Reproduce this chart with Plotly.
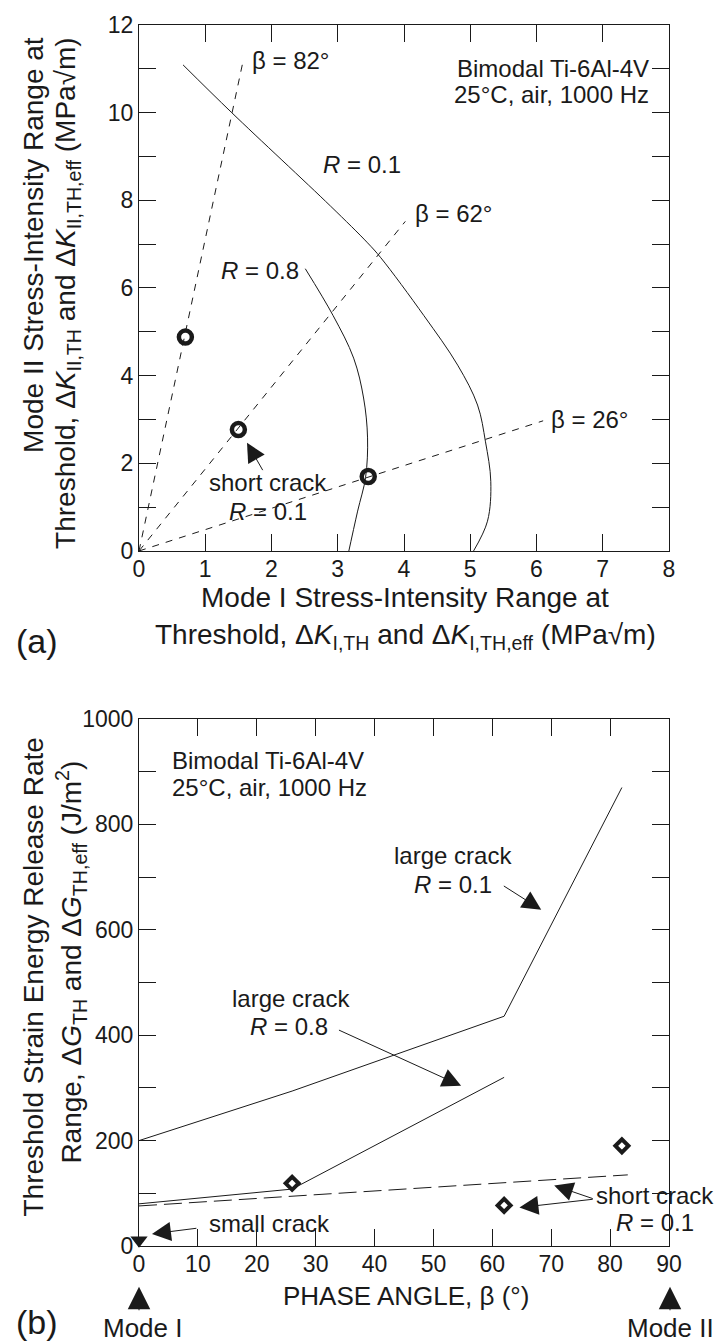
import plotly.graph_objects as go

# ---------------- data: panel (a) ----------------
KI_R01 = [0.665, 1.40, 2.89, 3.45, 3.65, 4.30, 4.81, 5.11, 5.23, 5.31, 5.26, 5.05]
KII_R01 = [11.09, 10.0, 7.87, 7.03, 6.69, 5.37, 4.24, 3.33, 2.49, 1.59, 0.68, 0.0]
KI_R08 = [2.51, 2.93, 3.24, 3.39, 3.45, 3.42, 3.30, 3.15]
KII_R08 = [6.44, 5.37, 4.40, 3.49, 2.58, 1.68, 0.91, -0.12]
BETA_LINES = [82, 62, 26]
BETA_END_KI = [1.56, 4.02, 6.10]
BETA_END_KII = [11.10, 7.52, 2.97]
SHORT_KI = [0.70, 1.50, 3.46]
SHORT_KII = [4.88, 2.77, 1.70]

# ---------------- data: panel (b) ----------------
BETA_LARGE_R01 = [0, 26, 62, 82]
G_LARGE_R01 = [200, 294, 436, 870]
BETA_LARGE_R08 = [0, 26, 62]
G_LARGE_R08 = [80, 108, 320]
BETA_SHORT_LINE = [0, 83]
G_SHORT_LINE = [76, 135]
BETA_SHORT_PTS = [26, 62, 82]
G_SHORT_PTS = [119, 77, 190]
BETA_SMALL = [0]
G_SMALL = [11]

# ---------------- layout geometry ----------------
W, H = 719, 1343
ML, MR, MT, MB = 139, 50, 18, 97
PW = W - ML - MR
PH = H - MT - MB


def px(xp):
    return (xp - ML) / PW


def py(yp):
    return (H - MB - yp) / PH


FONT = "Liberation Sans, Arial, sans-serif"
INK = "#1a1a1a"

fig = go.Figure()

# panel (a)
fig.add_trace(go.Scatter(x=KI_R01, y=KII_R01, mode="lines",
                         line=dict(color=INK, width=1, shape="spline", smoothing=1.0),
                         xaxis="x", yaxis="y", hoverinfo="skip"))
fig.add_trace(go.Scatter(x=KI_R08, y=KII_R08, mode="lines",
                         line=dict(color=INK, width=1, shape="spline", smoothing=1.0),
                         xaxis="x", yaxis="y", hoverinfo="skip"))
for ki, kii in zip(BETA_END_KI, BETA_END_KII):
    fig.add_trace(go.Scatter(x=[0, ki], y=[0, kii], mode="lines",
                             line=dict(color=INK, width=1, dash="7px,7px"),
                             xaxis="x", yaxis="y", hoverinfo="skip"))
fig.add_trace(go.Scatter(x=SHORT_KI, y=SHORT_KII, mode="markers",
                         marker=dict(symbol="circle-open", size=13, color=INK,
                                     line=dict(width=4.5, color=INK)),
                         xaxis="x", yaxis="y", hoverinfo="skip", cliponaxis=False))

# panel (b)
fig.add_trace(go.Scatter(x=BETA_LARGE_R01, y=G_LARGE_R01, mode="lines",
                         line=dict(color=INK, width=1), xaxis="x2", yaxis="y2"))
fig.add_trace(go.Scatter(x=BETA_LARGE_R08, y=G_LARGE_R08, mode="lines",
                         line=dict(color=INK, width=1), xaxis="x2", yaxis="y2"))
fig.add_trace(go.Scatter(x=BETA_SHORT_LINE, y=G_SHORT_LINE, mode="lines",
                         line=dict(color=INK, width=1, dash="18px,7px"),
                         xaxis="x2", yaxis="y2"))
fig.add_trace(go.Scatter(x=BETA_SHORT_PTS, y=G_SHORT_PTS, mode="markers",
                         marker=dict(symbol="diamond-open", size=10, color=INK,
                                     line=dict(width=4, color=INK)),
                         xaxis="x2", yaxis="y2", cliponaxis=False))
fig.add_trace(go.Scatter(x=BETA_SMALL, y=G_SMALL, mode="markers",
                         marker=dict(symbol="triangle-down", size=15, color=INK,
                                     line=dict(width=0)),
                         xaxis="x2", yaxis="y2", cliponaxis=False))

axis_common = dict(showline=True, linecolor=INK, linewidth=1, mirror="ticks",
                   ticks="inside", ticklen=17, tickwidth=1, tickcolor=INK,
                   showgrid=False, zeroline=False,
                   tickfont=dict(family=FONT, size=23, color=INK))

fig.update_layout(
    width=W, height=H,
    margin=dict(l=ML, r=MR, t=MT, b=MB),
    paper_bgcolor="white", plot_bgcolor="white",
    showlegend=False,
    font=dict(family=FONT, color=INK),
    xaxis=dict(domain=[0, 1], range=[0, 8], dtick=1, tick0=0, anchor="y",
               ticklabelstandoff=-3, **axis_common),
    yaxis=dict(domain=[py(547), 1], range=[0, 12], dtick=2, tick0=0, anchor="x",
               minor=dict(dtick=1, ticks="inside", ticklen=17, tickcolor=INK, tickwidth=1),
               **axis_common),
    xaxis2=dict(domain=[0, 1], range=[0, 90], dtick=10, tick0=0, anchor="y2",
                ticklabelstandoff=-3, **axis_common),
    yaxis2=dict(domain=[0, py(716)], range=[0, 1000], dtick=200, tick0=0, anchor="x2",
                minor=dict(dtick=100, ticks="inside", ticklen=17, tickcolor=INK, tickwidth=1),
                **axis_common),
)

ann = []


def text(t, x, y, xref, yref, size=24, xanchor="center", yanchor="middle", angle=0):
    ann.append(dict(text=t, x=x, y=y, xref=xref, yref=yref, showarrow=False,
                    xanchor=xanchor, yanchor=yanchor, textangle=angle,
                    font=dict(family=FONT, size=size, color=INK)))


def arrow(x, y, ax, ay, xref, yref, size=3.8, pixel=False):
    d = dict(text="", x=x, y=y, xref=xref, yref=yref, showarrow=True,
             arrowhead=2, arrowsize=size, arrowwidth=1, arrowcolor=INK,
             ax=ax, ay=ay)
    if not pixel:
        d["axref"] = xref
        d["ayref"] = yref
    ann.append(d)


# panel (a) labels
text("\u03b2 = 82\u00b0", 1.68, 11.2, "x", "y", xanchor="left")
text("<i>R</i> = 0.1", 3.37, 8.82, "x", "y")
text("\u03b2 = 62\u00b0", 4.13, 7.69, "x", "y", xanchor="left")
text("<i>R</i> = 0.8", 2.44, 6.39, "x", "y", xanchor="right")
text("\u03b2 = 26\u00b0", 6.19, 2.99, "x", "y", xanchor="left")
text("Bimodal Ti-6Al-4V", 7.73, 11.0, "x", "y", xanchor="right")
text("25\u00b0C, air, 1000 Hz", 7.73, 10.41, "x", "y", xanchor="right")
text("short crack", 1.94, 1.56, "x", "y")
text("<i>R</i> = 0.1", 1.94, 0.91, "x", "y")
arrow(1.63, 2.47, 1.88, 1.81, "x", "y")

# panel (a) axis titles
text("Mode I Stress-Intensity Range at", px(405), py(594), "paper", "paper", size=28)
text("Threshold, \u0394<i>K</i><sub>I,TH</sub> and \u0394<i>K</i><sub>I,TH,eff</sub> (MPa\u221am)",
     px(405), py(633), "paper", "paper", size=28)
text("Mode II Stress-Intensity Range at", px(34), py(28), "paper", "paper", size=28,
     yanchor="top", angle=-90)
text("Threshold, \u0394<i>K</i><sub>II,TH</sub> and \u0394<i>K</i><sub>II,TH,eff</sub> (MPa\u221am)",
     px(68), py(28), "paper", "paper", size=28, yanchor="top", angle=-90)
text("(a)", px(37), py(638), "paper", "paper", size=34)

# panel (b) labels
text("Bimodal Ti-6Al-4V", 5.25, 921, "x2", "y2", xanchor="left")
text("25\u00b0C, air, 1000 Hz", 5.25, 870, "x2", "y2", xanchor="left")
text("large crack", 53.4, 741, "x2", "y2")
text("<i>R</i> = 0.1", 53.4, 686, "x2", "y2")
arrow(68.3, 638, 61.7, 685, "x2", "y2")
text("large crack", 25.8, 470, "x2", "y2")
text("<i>R</i> = 0.8", 25.5, 417, "x2", "y2")
arrow(54.7, 304, 33.7, 411, "x2", "y2")
text("small crack", 22.1, 43, "x2", "y2")
arrow(2.2, 23, 10.0, 34, "x2", "y2")
text("short crack", 87.6, 96, "x2", "y2")
text("<i>R</i> = 0.1", 87.6, 45, "x2", "y2")
arrow(64.6, 73, 77.3, 89, "x2", "y2")
arrow(70.5, 115, 77.3, 89, "x2", "y2")

# panel (b) axis titles
text("PHASE ANGLE, \u03b2 (\u00b0)", px(406), py(1296), "paper", "paper", size=26)
text("Threshold Strain Energy Release Rate", px(34), py(976), "paper", "paper", size=28, angle=-90)
text("Range, \u0394<i>G</i><sub>TH</sub> and \u0394<i>G</i><sub>TH,eff</sub> (J/m<sup>2</sup>)",
     px(71), py(961), "paper", "paper", size=28, angle=-90)
text("(b)", px(37), py(1322), "paper", "paper", size=34)
text("Mode I", px(143), py(1328), "paper", "paper", size=26)
text("Mode II", px(670), py(1328), "paper", "paper", size=26)
arrow(px(139), py(1287), 0, 25, "paper", "paper", size=4.5, pixel=True)
arrow(px(670), py(1287), 0, 25, "paper", "paper", size=4.5, pixel=True)

fig.update_layout(annotations=ann)
fig.write_html("out.html")
